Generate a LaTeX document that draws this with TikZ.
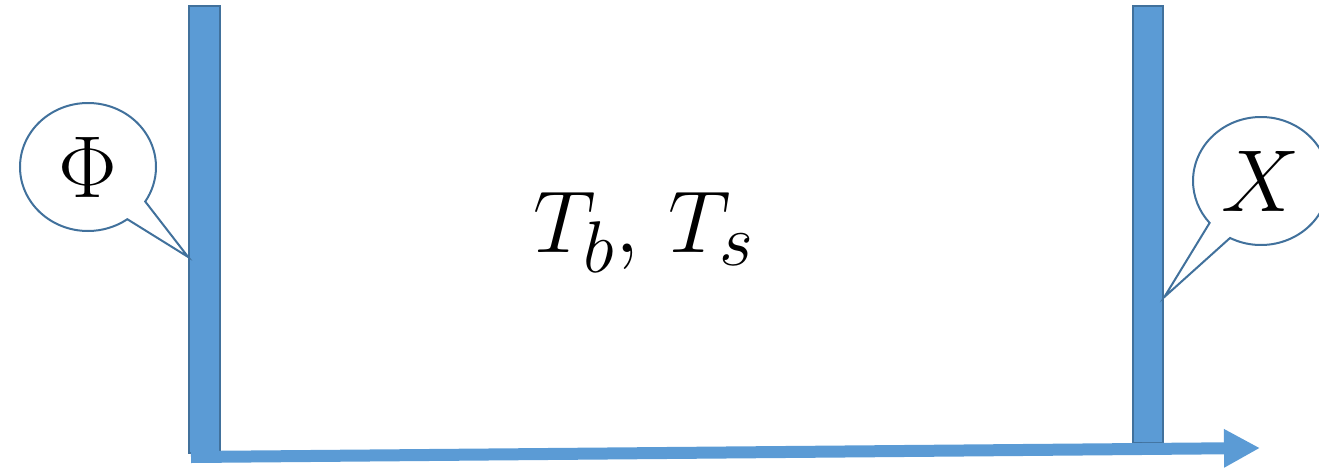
\documentclass[tikz,border=0pt]{standalone}
\usepackage{tikz}
\usetikzlibrary{arrows.meta, shapes.callouts, positioning}

\definecolor{barblue}{RGB}{91,155,213}
\definecolor{edgeblue}{RGB}{65,113,156}
\newcommand{\bigsym}[1]{\scalebox{2.65}{\Huge$#1$}}

\begin{document}
\begin{tikzpicture}[
    x=0.75pt, y=-0.75pt,
    bar/.style={rectangle, draw=edgeblue, fill=barblue, line width=1.5pt, inner sep=0pt, minimum width=23pt},
    bubble/.style={ellipse callout, draw=edgeblue, fill=white, line width=1.5pt, inner sep=0pt,
        minimum width=102pt, minimum height=96pt, callout pointer arc=22}
]
\useasboundingbox (0,0) rectangle (1319,467);

% Walls
\node[bar, minimum height=335pt] (left) at (204.5,229.5) {};
\node[bar, minimum height=328pt] (right) at (1148,224.5) {};

% Axis
\coordinate (start) at (191,457);
\coordinate (tip) at (1260,448);
\draw[barblue, line width=9pt, -{Triangle[length=27pt, width=27pt]}] (start) -- (tip);

% Labels
\node[bubble, callout absolute pointer={(left.west |- 0,257)}] (phi) at (88,167) {\bigsym{\Phi}};
\node[bubble, callout absolute pointer={(right.east |- 0,297)}] (chi) at (1261,181) {\bigsym{X}};
\node[anchor=base] (temps) at (644,252) {\bigsym{T_b,\,T_s}};

\end{tikzpicture}
\end{document}
